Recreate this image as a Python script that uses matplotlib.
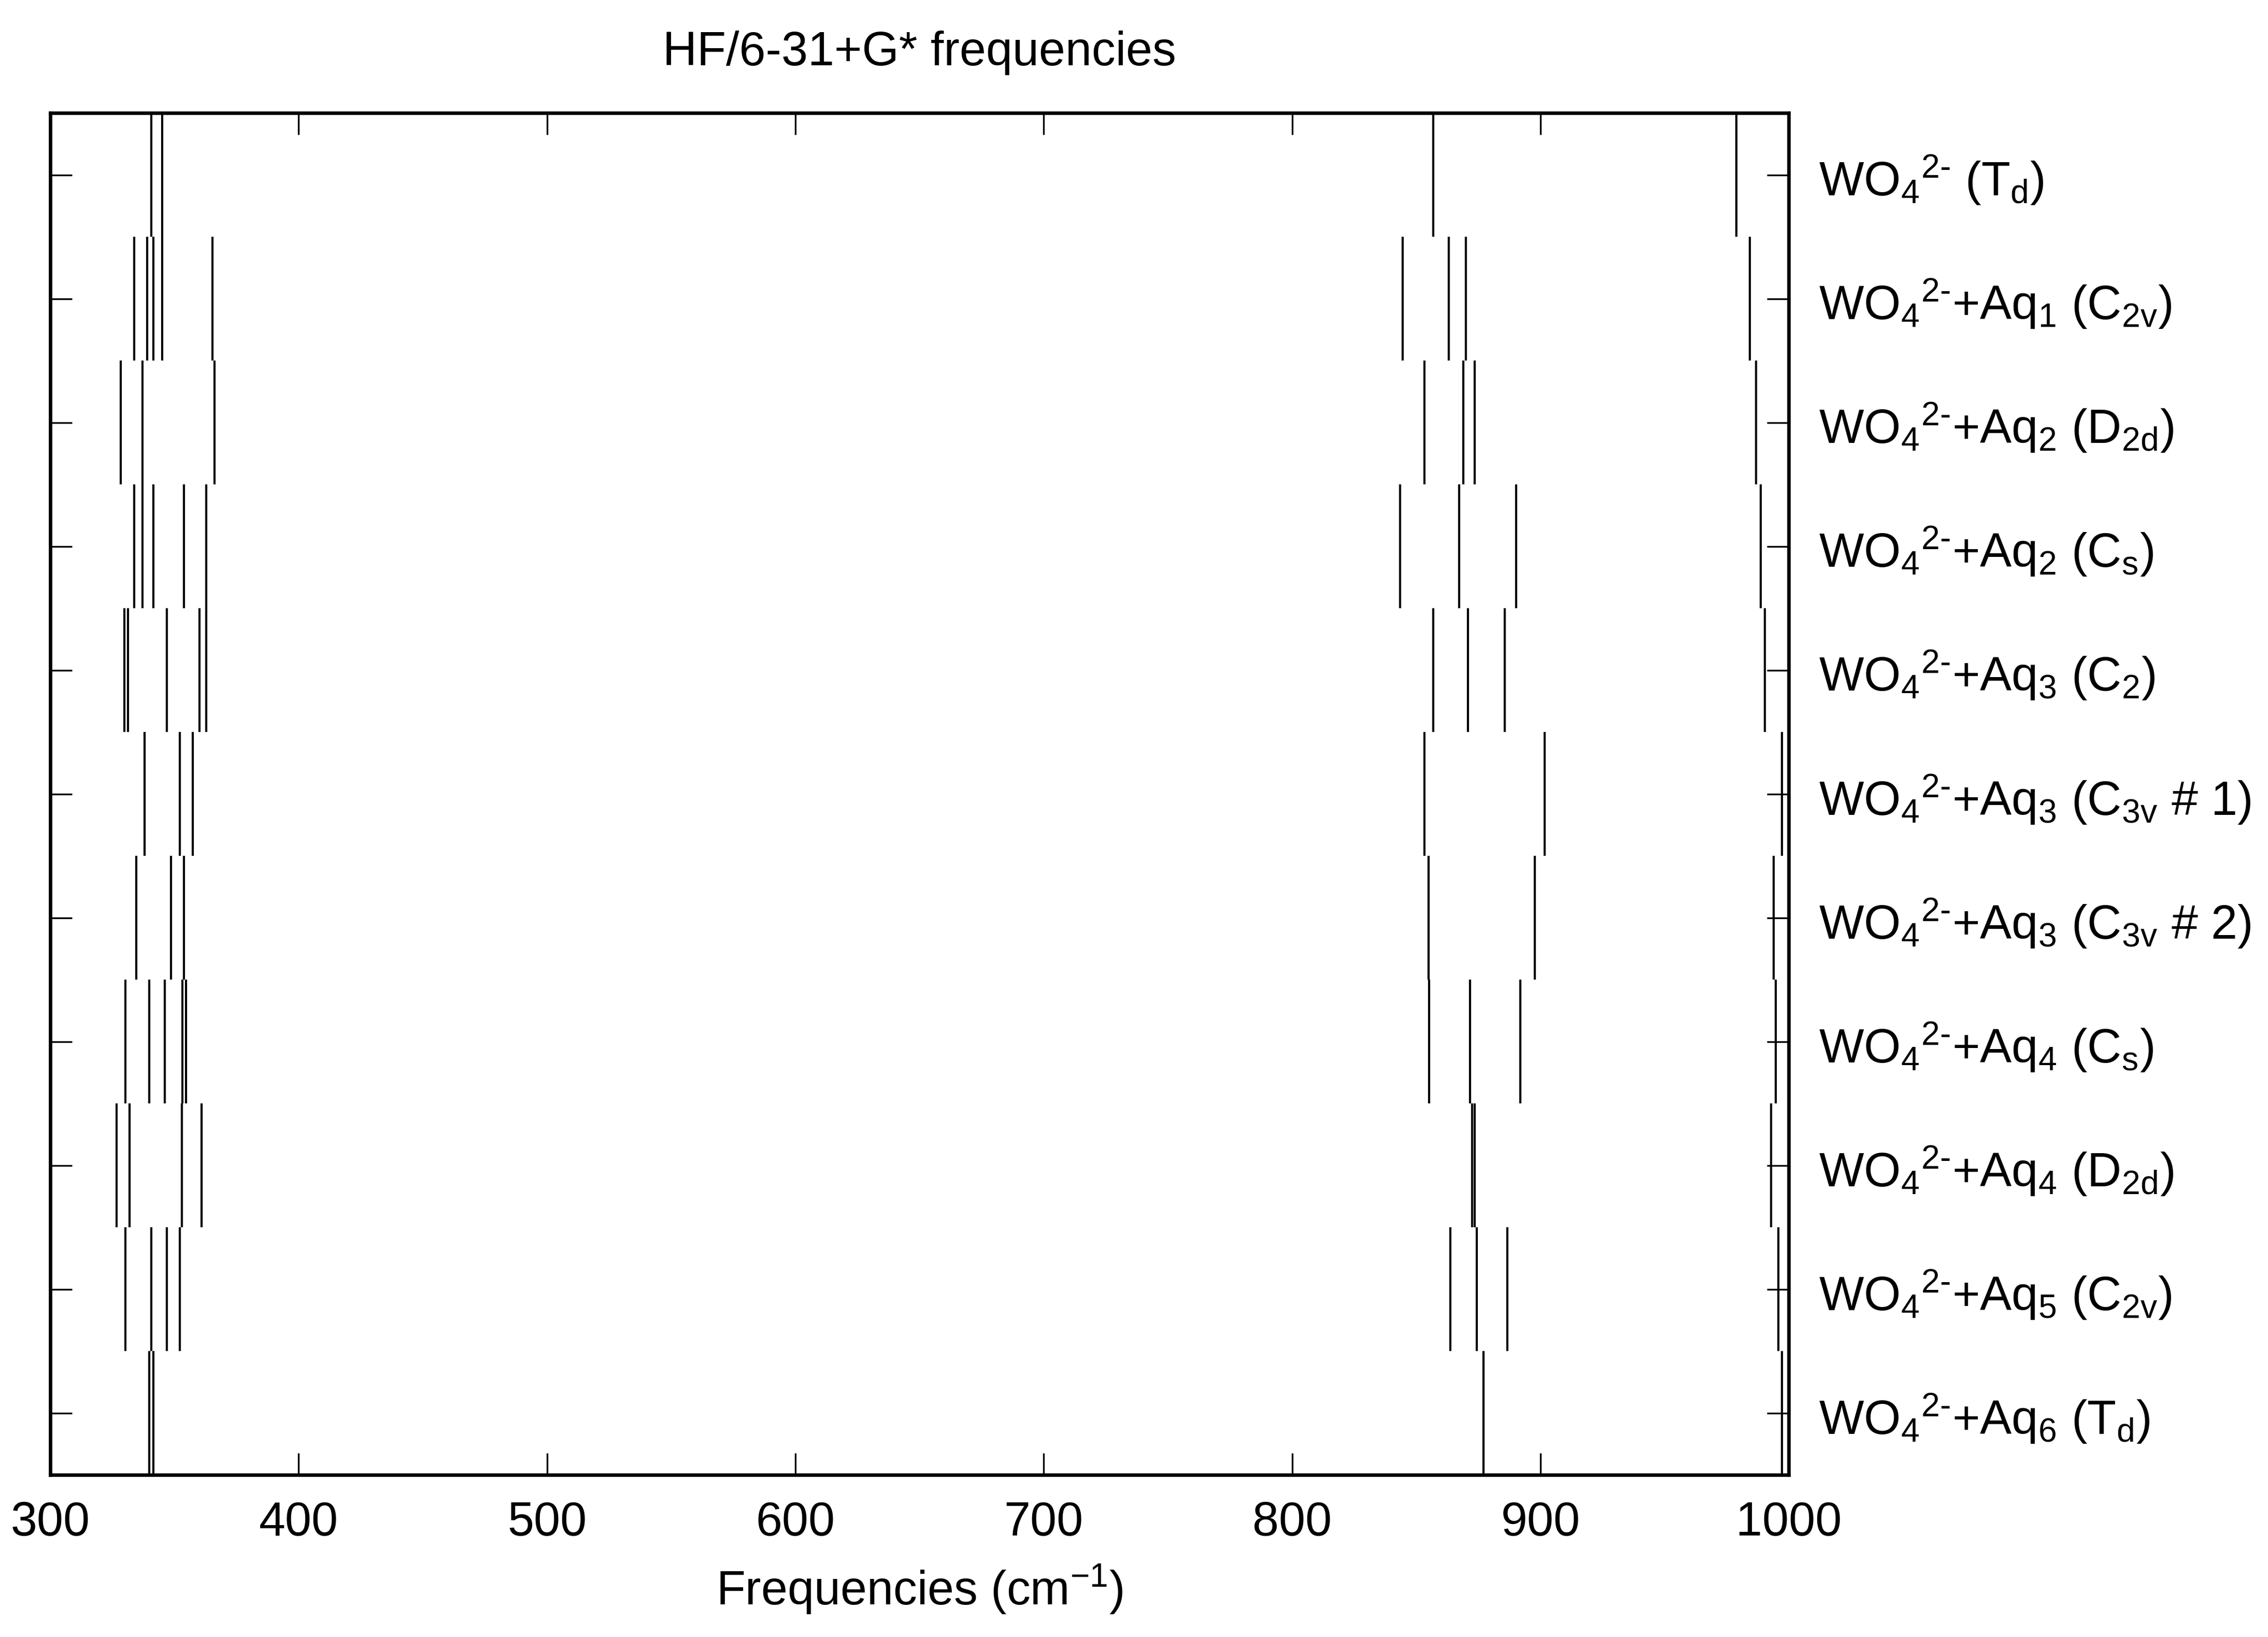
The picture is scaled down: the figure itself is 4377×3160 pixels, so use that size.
import matplotlib
matplotlib.use("Agg")
import matplotlib.pyplot as plt

plt.rcParams['font.family'] = ['Liberation Sans', 'DejaVu Sans']
plt.rcParams['mathtext.fontset'] = 'custom'
plt.rcParams['mathtext.rm'] = 'Liberation Sans'
plt.rcParams['mathtext.it'] = 'Liberation Sans'
plt.rcParams['mathtext.default'] = 'regular'

# structures, top to bottom
ion = r'WO$_4$$^{2\text{-}}$'
labels = [
    ion + r' (T$_d$)',
    ion + r'+Aq$_1$ (C$_{2v}$)',
    ion + r'+Aq$_2$ (D$_{2d}$)',
    ion + r'+Aq$_2$ (C$_s$)',
    ion + r'+Aq$_3$ (C$_2$)',
    ion + r'+Aq$_3$ (C$_{3v}$ # 1)',
    ion + r'+Aq$_3$ (C$_{3v}$ # 2)',
    ion + r'+Aq$_4$ (C$_s$)',
    ion + r'+Aq$_4$ (D$_{2d}$)',
    ion + r'+Aq$_5$ (C$_{2v}$)',
    ion + r'+Aq$_6$ (T$_d$)',
]

# HF/6-31+G* frequencies (cm-1) for each structure
freqs = [
    [340.6, 345.1, 856.8, 979.0],
    [333.7, 338.9, 341.5, 345.1, 365.3, 844.5, 863.0, 870.0, 984.3],
    [328.4, 337.1, 366.1, 853.3, 869.0, 873.5, 986.9],
    [333.7, 337.1, 341.5, 353.8, 362.7, 843.5, 867.3, 890.2, 988.6],
    [329.9, 331.2, 346.9, 360.1, 362.7, 856.8, 870.8, 885.7, 990.4],
    [338.0, 352.1, 357.3, 853.3, 901.7, 997.3],
    [334.5, 348.6, 353.8, 855.0, 897.7, 993.9],
    [330.2, 339.9, 346.0, 353.1, 354.7, 855.2, 871.7, 891.9, 994.8],
    [326.6, 331.9, 352.9, 360.9, 872.4, 873.6, 992.9],
    [330.2, 340.6, 346.9, 352.1, 863.8, 874.4, 886.7, 995.7],
    [339.9, 341.5, 877.0, 997.3],
]

fig = plt.figure(figsize=(4377 / 300, 3160 / 300), dpi=300)
ax = fig.add_axes([0.0222, 0.099, 0.7665, 0.832])

n = len(labels)
for i, row in enumerate(freqs):
    y = n - 1 - i
    ax.vlines(row, y - 0.5, y + 0.5, color='black', lw=1.0)

ax.set_xlim(300, 1000)
ax.set_ylim(-0.5, n - 0.5)
ax.set_xticks(range(300, 1001, 100))
ax.set_yticks(range(n))
ax.set_yticklabels(labels[::-1])
ax.tick_params(axis='y', which='both', direction='in', left=True, right=True,
               labelleft=False, labelright=True, length=10, width=0.8,
               labelsize=22, pad=14)
ax.tick_params(axis='x', direction='in', top=True, bottom=True, length=10,
               width=0.8, labelsize=22, pad=12)
for s in ax.spines.values():
    s.set_linewidth(1.6)

ax.set_xlabel('Frequencies (cm$^{-1}$)', fontsize=22, labelpad=8)
ax.set_title('HF/6-31+G* frequencies', fontsize=22, pad=22)

fig.savefig('out.png', dpi=300, facecolor='white')
